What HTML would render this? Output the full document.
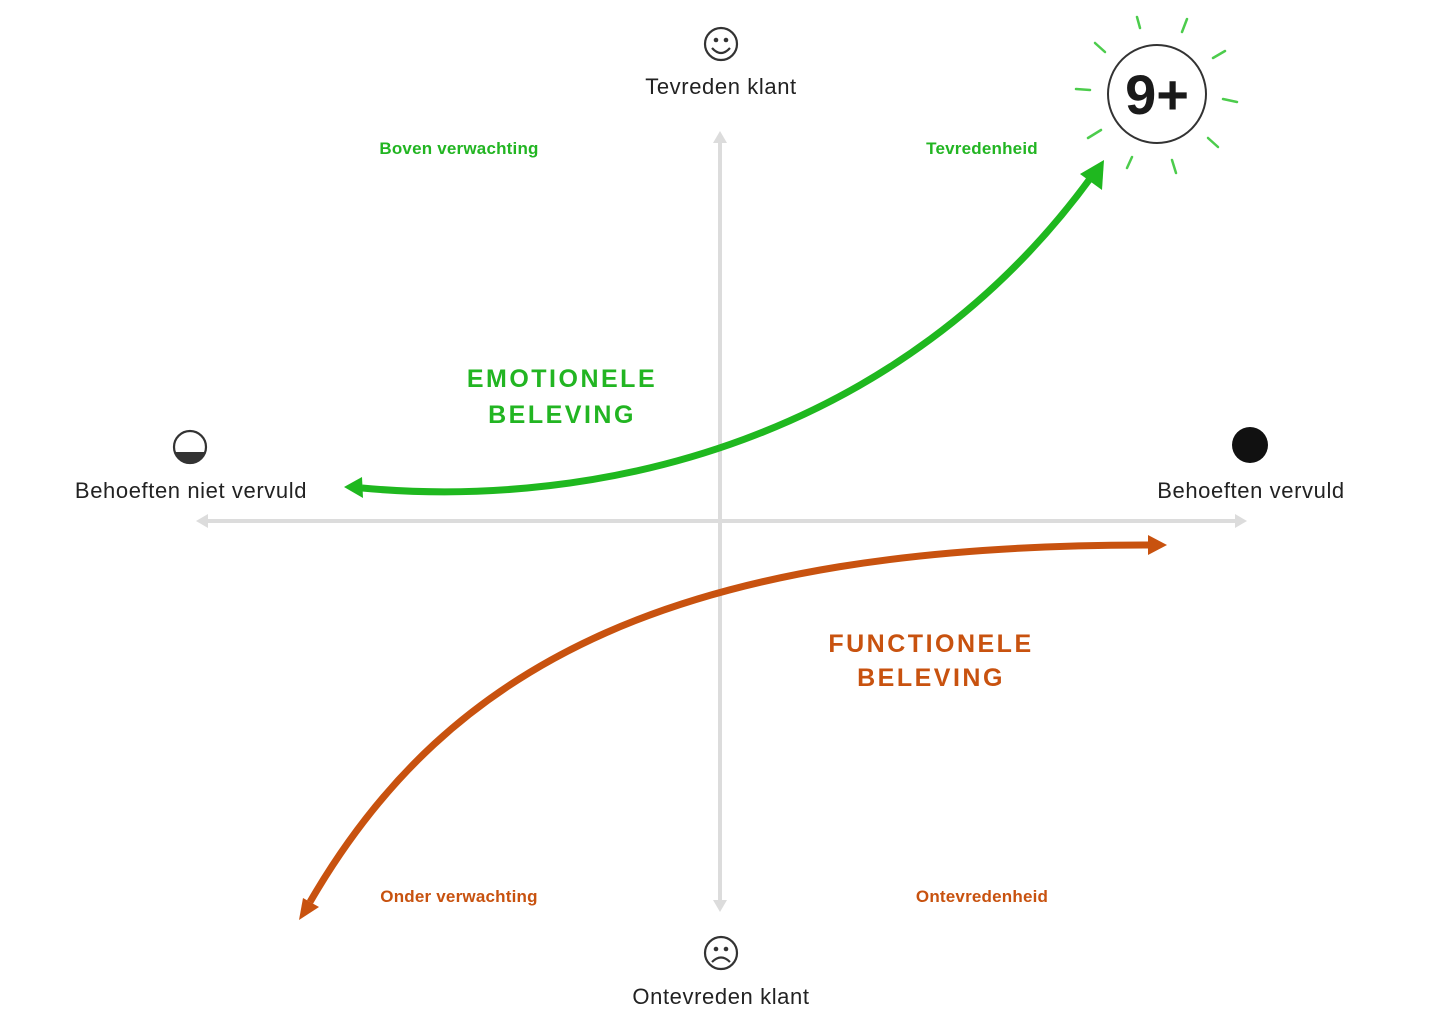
<!DOCTYPE html>
<html><head><meta charset="utf-8"><style>
html,body{margin:0;padding:0;background:#fff;}
svg{display:block;}
text{font-family:"Liberation Sans","DejaVu Sans",sans-serif;}
</style></head><body>
<svg width="1453" height="1021" viewBox="0 0 1453 1021" xmlns="http://www.w3.org/2000/svg">
<g stroke="#dcdcdc" stroke-width="4" fill="none">
<line x1="205" y1="521" x2="1238" y2="521"/>
<line x1="720" y1="140" x2="720" y2="903"/>
</g>
<g fill="#dcdcdc">
<polygon points="196,521 208,514 208,528"/>
<polygon points="1247,521 1235,514 1235,528"/>
<polygon points="720,131 713,143 727,143"/>
<polygon points="720,912 713,900 727,900"/>
</g>
<path d="M362,488 C600,510 900,440 1092,176" stroke="#1fb81f" stroke-width="7" fill="none"/>
<polygon points="1104,160 1102,190 1080,174" fill="#1fb81f"/>
<polygon points="344,487 362,477 363,498" fill="#1fb81f"/>
<path d="M310,902 C450,660 680,545 1148,545" stroke="#c8520f" stroke-width="7" fill="none"/>
<polygon points="1167,545 1148,535 1148,555" fill="#c8520f"/>
<polygon points="299,920 303,898 319,907" fill="#c8520f"/>
<circle cx="1157" cy="94" r="49" fill="none" stroke="#333" stroke-width="2"/>
<text x="1157" y="114" font-size="56" font-weight="bold" text-anchor="middle" fill="#1a1a1a">9+</text>
<g stroke="#4ccc4c" stroke-width="2.5" stroke-linecap="round">
<line x1="1137" y1="17" x2="1140" y2="28"/>
<line x1="1187" y1="19" x2="1182" y2="32"/>
<line x1="1095" y1="43" x2="1105" y2="52"/>
<line x1="1225" y1="51" x2="1213" y2="58"/>
<line x1="1076" y1="89" x2="1090" y2="90"/>
<line x1="1223" y1="99" x2="1237" y2="102"/>
<line x1="1088" y1="138" x2="1101" y2="130"/>
<line x1="1208" y1="138" x2="1218" y2="147"/>
<line x1="1132" y1="157" x2="1127" y2="168"/>
<line x1="1172" y1="160" x2="1176" y2="173"/>
</g>
<g fill="none" stroke="#333" stroke-width="2.2">
<circle cx="721" cy="44" r="16"/>
<path d="M712,48 Q721,58 730,48"/>
<circle cx="721" cy="953" r="16"/>
<path d="M712,962 Q721,953 730,962"/>
<circle cx="190" cy="447" r="16"/>
</g>
<g fill="#333">
<circle cx="716" cy="40" r="2.3"/><circle cx="726" cy="40" r="2.3"/>
<circle cx="716" cy="949" r="2.3"/><circle cx="726" cy="949" r="2.3"/>
<path d="M175,452 A16,16 0 0 0 205,452 Z"/>
<circle cx="1250" cy="445" r="18" fill="#111"/>
</g>
<g fill="#222" font-size="22" text-anchor="middle" letter-spacing="0.6">
<text x="721" y="94">Tevreden klant</text>
<text x="721" y="1004">Ontevreden klant</text>
<text x="191" y="498">Behoeften niet vervuld</text>
<text x="1251" y="498">Behoeften vervuld</text>
</g>
<g font-size="17" font-weight="bold" text-anchor="middle" letter-spacing="0.2">
<text x="459" y="154" fill="#22b522">Boven verwachting</text>
<text x="982" y="154" fill="#22b522">Tevredenheid</text>
<text x="459" y="902" fill="#c8520f">Onder verwachting</text>
<text x="982" y="902" fill="#c8520f">Ontevredenheid</text>
</g>
<g font-size="25" font-weight="bold" text-anchor="middle" letter-spacing="2.5">
<text x="562" y="387" fill="#22b522">EMOTIONELE</text>
<text x="562" y="423" fill="#22b522">BELEVING</text>
<text x="931" y="652" fill="#c8520f">FUNCTIONELE</text>
<text x="931" y="686" fill="#c8520f">BELEVING</text>
</g>
</svg>
</body></html>
